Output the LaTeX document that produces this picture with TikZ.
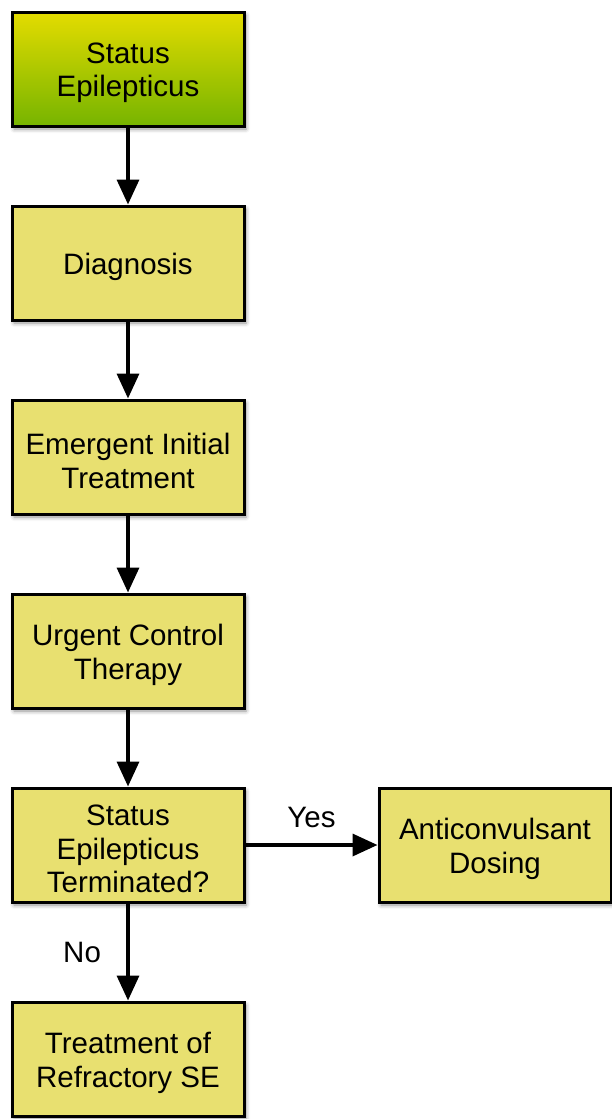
\documentclass[tikz,border=0pt]{standalone}
\usepackage{fontspec}
\setmainfont{Liberation Sans}
\usetikzlibrary{arrows.meta,shadows.blur}
\definecolor{boxfill}{RGB}{232,224,112}
\definecolor{gtop}{RGB}{228,220,0}
\definecolor{gbot}{RGB}{118,180,0}
\tikzset{
  txt/.style={align=center, inner sep=0pt, yshift=-4pt, font=\fontsize{29.5}{33.5}\selectfont},
  stepbox/.style={draw=black, line width=3pt, fill=boxfill, minimum width=232pt, minimum height=114pt,
    inner sep=0pt,
    blur shadow={shadow xshift=2pt, shadow yshift=-3pt, shadow blur radius=4pt, shadow opacity=45}},
  startbox/.style={stepbox, fill=none, top color=gtop, bottom color=gbot},
  flow/.style={line width=3.5pt, -{Triangle[length=25pt,width=22pt]}},
  lbl/.style={font=\fontsize{29.5}{33.5}\selectfont}
}
\begin{document}
\begin{tikzpicture}[x=1pt,y=-1pt]
\useasboundingbox (0,0) rectangle (612,1119);
\node[startbox, label={[txt]center:Status\\Epilepticus}] (se) at (128,69) {};
\node[stepbox, label={[txt]center:Diagnosis}] (dx) at (128,263) {};
\node[stepbox, label={[txt]center:Emergent Initial\\Treatment}] (eit) at (128,457) {};
\node[stepbox, label={[txt]center:Urgent Control\\Therapy}] (uct) at (128,651) {};
\node[stepbox, label={[txt]center:Status\\Epilepticus\\Terminated?}] (term) at (128,845) {};
\node[stepbox, label={[txt]center:Anticonvulsant\\Dosing}] (ad) at (495,845) {};
\node[stepbox, label={[txt]center:Treatment of\\Refractory SE}] (rse) at (128,1059) {};
\draw[flow] (se) -- (dx);
\draw[flow] (dx) -- (eit);
\draw[flow] (eit) -- (uct);
\draw[flow] (uct) -- (term);
\draw[flow] (term) -- node[lbl, above=12pt] {Yes} (ad);
\draw[flow] (term) -- node[lbl, left=22pt, pos=0.5] {No} (rse);
\end{tikzpicture}
\end{document}
